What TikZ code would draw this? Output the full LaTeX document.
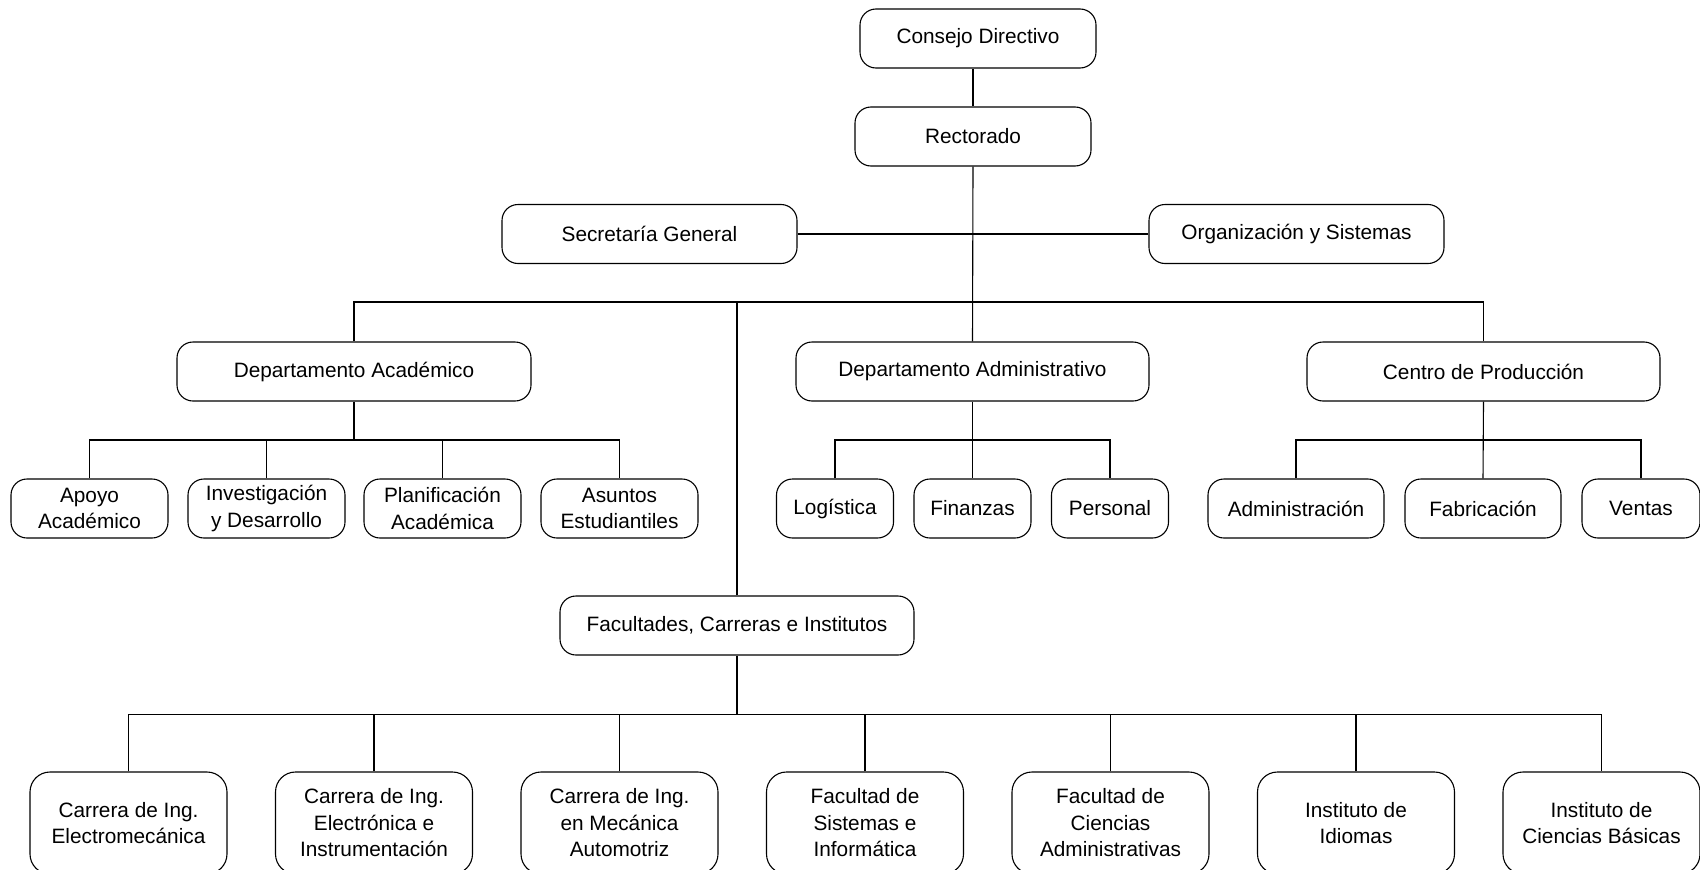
\documentclass[tikz,border=0pt]{standalone}
\usepackage{fontspec}
\setmainfont{Liberation Sans}
\begin{document}
\begin{tikzpicture}[x=1pt,y=-1pt,
  box/.style={draw, line width=1.1pt, rounded corners=16pt, align=center, inner sep=0pt,
    font=\fontsize{20.8}{26.5}\selectfont, minimum height=59pt},
  wide/.style={box, minimum width=354pt},
  mid/.style={box, minimum width=295pt},
  top/.style={box, minimum width=236pt},
  acad/.style={box, minimum width=157pt},
  adm/.style={box, minimum width=117pt},
  btm/.style={box, minimum width=197pt, minimum height=102pt, rounded corners=20pt},
  conn/.style={line width=1.1pt}]
\useasboundingbox (0,0) rectangle (1700,870);
\clip (0,0) rectangle (1700,870);

% top levels
\node[top] (cd) at (978,38.5) {Consejo Directivo};
\node[top] (rect) at (973,136.5) {Rectorado};
\node[mid] (sg) at (649.5,234) {Secretaría General};
\node[mid] (os) at (1296.5,234) {Organización y Sistemas};

% departments
\node[wide] (da) at (354,371.5) {Departamento Académico};
\node[wide, minimum width=353pt] (dad) at (972.5,371.5) {Departamento Administrativo};
\node[wide, minimum width=353pt] (cp) at (1483.5,371.5) {Centro de Producción};
\coordinate (bus) at (972.5,302);

% academic subunits
\node[acad] (ap) at (89.5,508.5) {Apoyo\\Académico};
\node[acad] (inv) at (266.5,508.5) {Investigación\\y Desarrollo};
\node[acad] (pl) at (442.5,508.5) {Planificación\\Académica};
\node[acad] (as) at (619.5,508.5) {Asuntos\\Estudiantiles};
\coordinate (abus) at (354,440);

% administrative subunits
\node[adm] (lo) at (835,508.5) {Logística};
\node[adm] (fi) at (972.5,508.5) {Finanzas};
\node[adm] (pe) at (1110,508.5) {Personal};
\coordinate (dbus) at (972.5,440);

% production subunits
\node[box, minimum width=176pt] (adn) at (1296,508.5) {Administración};
\node[box, minimum width=156pt] (fab) at (1483,508.5) {Fabricación};
\node[box, minimum width=118pt] (ve) at (1641,508.5) {Ventas};
\coordinate (pbus) at (1483.5,440);

% faculties
\node[wide] (fac) at (737,625.5) {Facultades, Carreras e Institutos};
\coordinate (fbus) at (737,714.5);

\node[btm] (b1) at (128.5,823) {Carrera de Ing.\\Electromecánica};
\node[btm] (b2) at (374,823) {Carrera de Ing.\\Electrónica e\\Instrumentación};
\node[btm] (b3) at (619.5,823) {Carrera de Ing.\\en Mecánica\\Automotriz};
\node[btm] (b4) at (865,823) {Facultad de\\Sistemas e\\Informática};
\node[btm] (b5) at (1110.5,823) {Facultad de\\Ciencias\\Administrativas};
\node[btm] (b6) at (1356,823) {Instituto de\\Idiomas};
\node[btm] (b7) at (1601.5,823) {Instituto de\\Ciencias Básicas};

% connectors
\draw[conn] (rect.north) -- (rect.north |- cd.south);
\draw[conn] (rect.south) -- (dad.north);
\draw[conn] (sg.east) -- (os.west);
\draw[conn] (da.north) -- (da.north |- bus) -- (cp.north |- bus) -- (cp.north);
\draw[conn] (fac.north) -- (fac.north |- bus);

\draw[conn] (da.south) -- (abus);
\draw[conn] (ap.north) -- (ap.north |- abus) -- (as.north |- abus) -- (as.north);
\draw[conn] (inv.north) -- (inv.north |- abus);
\draw[conn] (pl.north) -- (pl.north |- abus);

\draw[conn] (dad.south) -- (fi.north);
\draw[conn] (lo.north) -- (lo.north |- dbus) -- (pe.north |- dbus) -- (pe.north);

\draw[conn] (cp.south) -- (fab.north);
\draw[conn] (adn.north) -- (adn.north |- pbus) -- (ve.north |- pbus) -- (ve.north);

\draw[conn] (fac.south) -- (fbus);
\draw[conn] (b1.north) -- (b1.north |- fbus) -- (b7.north |- fbus) -- (b7.north);
\draw[conn] (b2.north) -- (b2.north |- fbus);
\draw[conn] (b3.north) -- (b3.north |- fbus);
\draw[conn] (b4.north) -- (b4.north |- fbus);
\draw[conn] (b5.north) -- (b5.north |- fbus);
\draw[conn] (b6.north) -- (b6.north |- fbus);
\end{tikzpicture}
\end{document}
